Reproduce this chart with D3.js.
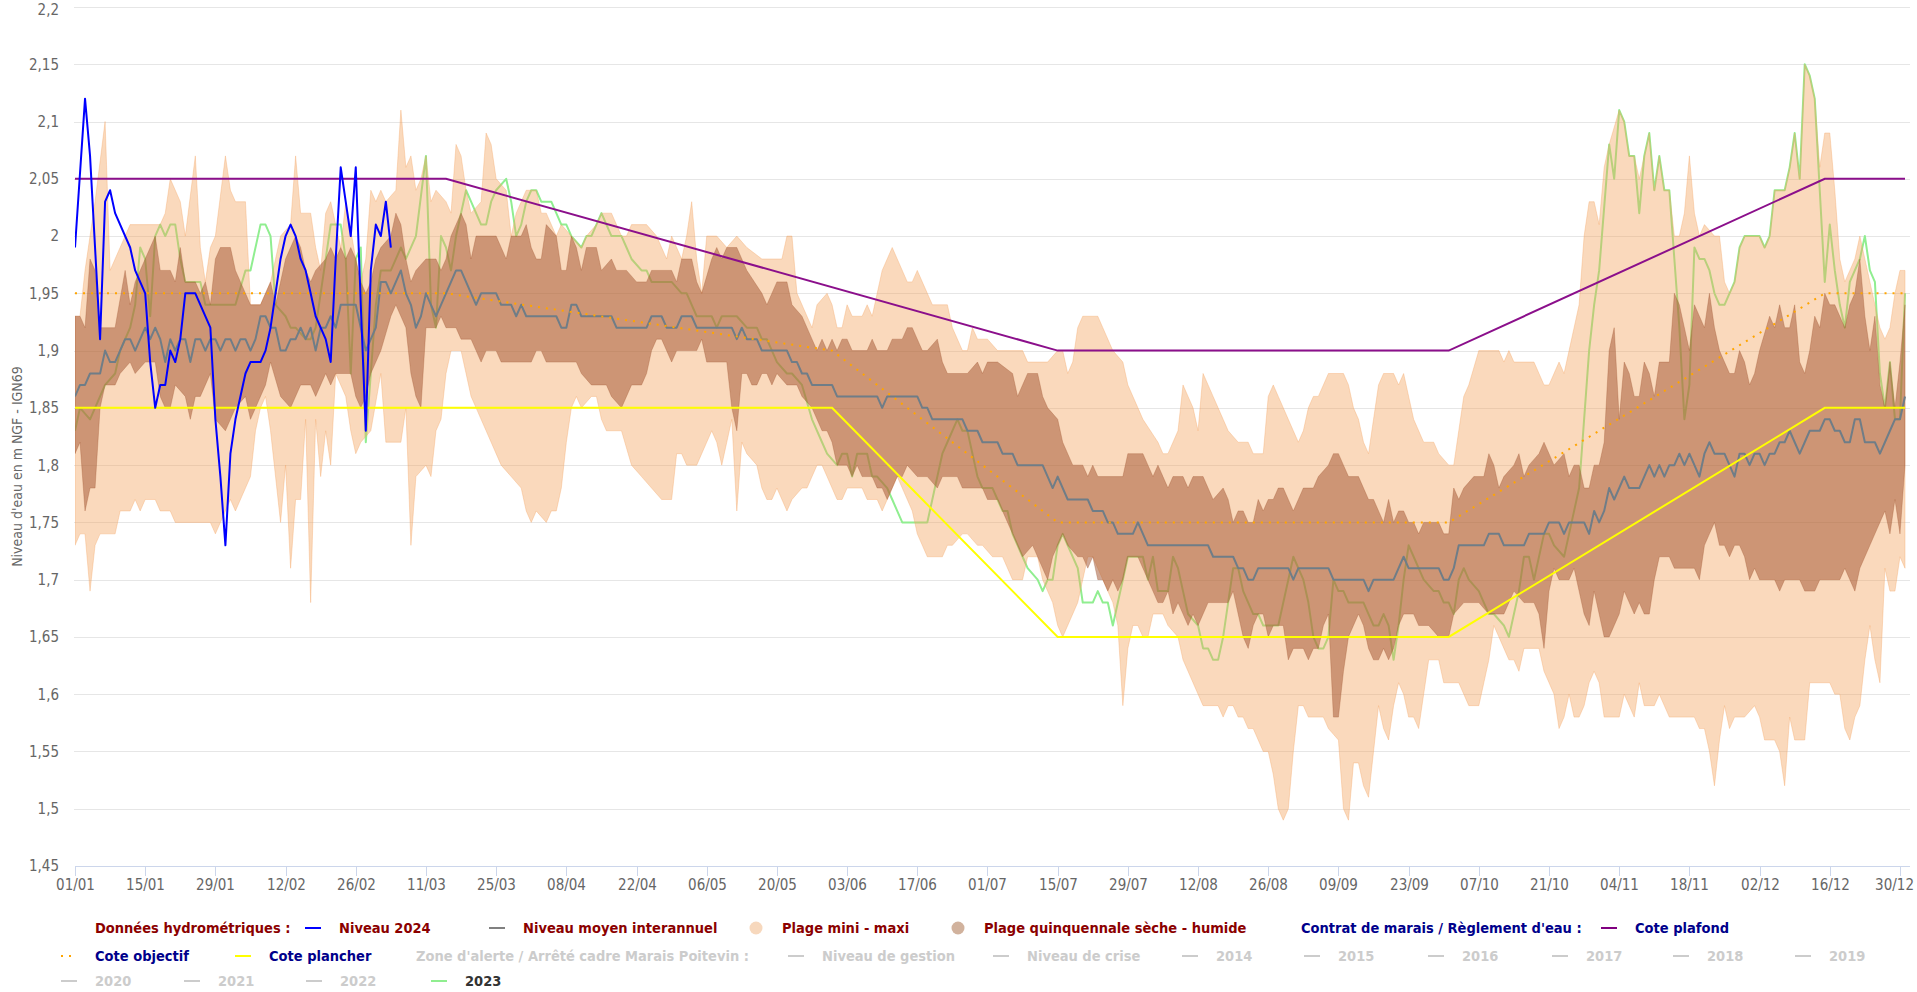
<!DOCTYPE html>
<html>
<head>
<meta charset="utf-8">
<script src="https://cdn.jsdelivr.net/npm/d3@7"></script>
<style>
body { margin: 0; background: #fff; }
svg { display: block; font-family: "DejaVu Sans Condensed", "DejaVu Sans", sans-serif; }
</style>
</head>
<body>
<svg width="1917" height="992"></svg>
<script>
// day of year (0 = 01/01/2024), level in m NGF
var xTickLabels = ["01/01","15/01","29/01","12/02","26/02","11/03","25/03","08/04","22/04","06/05","20/05","03/06","17/06","01/07",
	"15/07","29/07","12/08","26/08","09/09","23/09","07/10","21/10","04/11","18/11","02/12","16/12","30/12"];
var yTicks = [1.45,1.5,1.55,1.6,1.65,1.7,1.75,1.8,1.85,1.9,1.95,2,2.05,2.1,2.15,2.2];

var niveau2024 = [[0,1.99],[2,2.12],[3,2.07],[5,1.91],[6,2.03],[7,2.04],[8,2.02],[11,1.99],[12,1.97],[14,1.95],[15,1.89],[16,1.85],[17,1.87],[18,1.87],
	[19,1.90],[20,1.89],[21,1.91],[22,1.95],[24,1.95],[27,1.92],[28,1.84],[29,1.79],[30,1.73],[31,1.81],[32,1.84],[34,1.88],[35,1.89],[37,1.89],[38,1.90],
	[39,1.92],[41,1.98],[42,2.00],[43,2.01],[44,2.00],[45,1.98],[46,1.97],[47,1.95],[48,1.93],[50,1.91],[51,1.89],[52,1.98],[53,2.06],[55,2.00],[56,2.06],
	[57,1.94],[58,1.83],[59,1.97],[60,2.01],[61,2.00],[62,2.03],[63,1.99]];

var niveauMoyen = [[0,1.86],[1,1.87],[2,1.87],[3,1.88],[5,1.88],[6,1.90],[7,1.89],[8,1.89],[9,1.90],[10,1.91],[11,1.91],[12,1.90],[13,1.91],[14,1.92],
	[15,1.91],[16,1.92],[17,1.91],[18,1.89],[19,1.91],[20,1.90],[21,1.91],[22,1.91],[23,1.89],[24,1.91],[25,1.91],[26,1.90],[27,1.91],[28,1.91],[29,1.90],
	[30,1.91],[31,1.91],[32,1.90],[33,1.91],[34,1.91],[35,1.90],[36,1.91],[37,1.93],[38,1.93],[39,1.92],[40,1.92],[41,1.90],[42,1.90],[43,1.91],[44,1.91],
	[45,1.92],[46,1.91],[47,1.92],[48,1.90],[49,1.92],[50,1.92],[51,1.93],[52,1.92],[53,1.94],[56,1.94],[57,1.92],[58,1.90],[59,1.91],[60,1.92],[61,1.96],
	[62,1.96],[63,1.95],[64,1.96],[65,1.97],[66,1.95],[67,1.94],[68,1.92],[69,1.93],[70,1.95],[71,1.94],[72,1.93],[73,1.94],[75,1.96],[76,1.97],[77,1.97],
	[78,1.96],[80,1.94],[81,1.95],[84,1.95],[85,1.94],[87,1.94],[88,1.93],[89,1.94],[90,1.93],[96,1.93],[97,1.92],[98,1.92],[99,1.94],[100,1.94],[101,1.93],
	[107,1.93],[108,1.92],[114,1.92],[115,1.93],[117,1.93],[118,1.92],[120,1.92],[121,1.93],[123,1.93],[124,1.92],[131,1.92],[132,1.91],[133,1.92],[134,1.91],
	[136,1.91],[137,1.90],[142,1.90],[143,1.89],[144,1.89],[145,1.88],[146,1.88],[147,1.87],[151,1.87],[152,1.86],[160,1.86],[161,1.85],[162,1.86],[168,1.86],
	[169,1.85],[170,1.85],[171,1.84],[177,1.84],[178,1.83],[180,1.83],[181,1.82],[184,1.82],[185,1.81],[187,1.81],[188,1.80],[193,1.80],[194,1.79],[195,1.78],
	[196,1.79],[198,1.77],[202,1.77],[203,1.76],[205,1.76],[206,1.75],[207,1.75],[208,1.74],[211,1.74],[212,1.75],[213,1.74],[214,1.73],[226,1.73],[227,1.72],
	[231,1.72],[232,1.71],[233,1.71],[234,1.70],[235,1.70],[236,1.71],[242,1.71],[243,1.70],[244,1.71],[250,1.71],[251,1.70],[257,1.70],[258,1.69],[259,1.70],
	[263,1.70],[264,1.71],[265,1.72],[266,1.71],[272,1.71],[273,1.70],[274,1.70],[275,1.71],[276,1.73],[281,1.73],[282,1.74],[284,1.74],[285,1.73],[289,1.73],
	[290,1.74],[293,1.74],[294,1.75],[296,1.75],[297,1.74],[298,1.75],[301,1.75],[302,1.74],[303,1.76],[304,1.75],[305,1.76],[306,1.78],[307,1.77],[309,1.79],
	[310,1.78],[312,1.78],[313,1.79],[314,1.80],[315,1.79],[316,1.80],[317,1.79],[318,1.80],[319,1.80],[320,1.81],[321,1.80],[322,1.81],[323,1.80],[324,1.79],
	[325,1.81],[326,1.82],[327,1.81],[329,1.81],[330,1.80],[331,1.79],[332,1.81],[333,1.81],[334,1.80],[335,1.81],[336,1.81],[337,1.80],[338,1.81],[339,1.81],
	[340,1.82],[341,1.82],[342,1.83],[343,1.82],[344,1.81],[345,1.82],[346,1.83],[348,1.83],[349,1.84],[350,1.84],[351,1.83],[352,1.83],[353,1.82],[354,1.82],
	[355,1.84],[356,1.84],[357,1.82],[359,1.82],[360,1.81],[361,1.82],[362,1.83],[363,1.84],[364,1.84],[365,1.86]];

var niveau2023 = [[0,1.83],[1,1.85],[3,1.84],[4,1.85],[5,1.86],[6,1.87],[8,1.88],[9,1.90],[11,1.92],[12,1.94],[13,1.99],[14,1.98],[15,1.93],[16,2.00],
	[17,2.01],[18,2.00],[19,2.01],[20,2.01],[21,1.98],[22,1.96],[25,1.96],[26,1.94],[32,1.94],[34,1.97],[35,1.97],[37,2.01],[38,2.01],[39,2.00],[40,1.94],
	[42,1.93],[43,1.92],[44,1.92],[46,1.91],[47,1.91],[48,1.92],[51,2.01],[53,2.01],[54,1.98],[55,1.88],[56,1.98],[57,1.99],[58,1.82],[59,1.88],[60,1.94],
	[61,1.97],[63,1.97],[65,1.99],[66,1.98],[68,2.00],[70,2.07],[71,1.94],[72,1.92],[73,2.00],[74,1.99],[75,1.97],[76,2.00],[78,2.04],[79,2.03],[81,2.01],
	[82,2.01],[83,2.03],[84,2.04],[86,2.05],[87,2.03],[88,2.00],[89,2.01],[90,2.03],[91,2.04],[92,2.04],[93,2.03],[95,2.03],[96,2.02],[97,2.01],[98,2.01],
	[99,2.00],[101,1.99],[102,2.00],[103,2.00],[105,2.02],[106,2.01],[107,2.00],[109,2.00],[110,1.99],[111,1.98],[113,1.97],[114,1.97],[115,1.96],[119,1.96],
	[121,1.95],[122,1.95],[124,1.93],[127,1.93],[128,1.92],[129,1.93],[132,1.93],[134,1.92],[136,1.92],[137,1.91],[138,1.91],[139,1.90],[140,1.89],[142,1.88],
	[143,1.88],[145,1.87],[147,1.84],[149,1.82],[150,1.81],[152,1.80],[153,1.81],[154,1.81],[155,1.79],[156,1.81],[158,1.81],[159,1.79],[160,1.79],[162,1.78],
	[163,1.77],[165,1.75],[170,1.75],[171,1.77],[172,1.79],[173,1.81],[174,1.82],[176,1.84],[177,1.83],[178,1.83],[179,1.81],[180,1.79],[181,1.78],[183,1.78],
	[184,1.77],[185,1.76],[186,1.76],[187,1.74],[189,1.72],[190,1.71],[192,1.70],[193,1.69],[194,1.70],[195,1.70],[196,1.73],[197,1.74],[198,1.73],[200,1.71],
	[201,1.68],[203,1.68],[204,1.69],[205,1.68],[206,1.68],[207,1.66],[208,1.68],[209,1.70],[210,1.72],[213,1.72],[214,1.70],[215,1.72],[216,1.69],[218,1.69],
	[219,1.72],[220,1.71],[221,1.69],[222,1.67],[224,1.66],[225,1.64],[226,1.64],[227,1.63],[228,1.63],[229,1.65],[230,1.68],[231,1.71],[232,1.71],[233,1.69],
	[234,1.68],[235,1.67],[236,1.67],[237,1.66],[240,1.66],[241,1.68],[242,1.70],[243,1.72],[244,1.71],[245,1.70],[246,1.68],[247,1.65],[248,1.64],[249,1.64],
	[250,1.65],[251,1.70],[252,1.69],[253,1.69],[254,1.68],[257,1.68],[258,1.67],[259,1.66],[260,1.66],[261,1.67],[262,1.66],[263,1.63],[264,1.66],[265,1.70],
	[266,1.73],[267,1.72],[269,1.70],[271,1.69],[272,1.69],[273,1.68],[274,1.68],[275,1.67],[276,1.70],[277,1.71],[278,1.70],[280,1.69],[281,1.68],[282,1.67],
	[283,1.67],[285,1.66],[286,1.65],[287,1.67],[288,1.69],[289,1.72],[290,1.72],[291,1.70],[292,1.72],[293,1.74],[294,1.74],[295,1.73],[297,1.72],[298,1.74],
	[300,1.78],[301,1.84],[302,1.90],[303,1.94],[304,1.97],[306,2.08],[307,2.05],[308,2.11],[309,2.10],[310,2.07],[311,2.07],[312,2.02],[313,2.07],[314,2.09],
	[315,2.04],[316,2.07],[317,2.04],[318,2.04],[319,1.98],[320,1.92],[321,1.84],[322,1.87],[323,1.99],[324,1.98],[325,1.98],[326,1.97],[327,1.95],[328,1.94],
	[329,1.94],[330,1.95],[331,1.96],[332,1.99],[333,2.00],[336,2.00],[337,1.99],[338,2.00],[339,2.04],[341,2.04],[342,2.06],[343,2.09],[344,2.05],[345,2.15],
	[346,2.14],[347,2.12],[348,2.04],[349,1.96],[350,2.01],[351,1.97],[352,1.94],[353,1.92],[354,1.96],[355,1.97],[356,1.98],[357,2.00],[358,1.97],[359,1.96],
	[360,1.88],[361,1.85],[362,1.89],[363,1.84],[364,1.84],[365,1.95]];

var plageMaxi = [[0,1.93],[1,1.93],[2,1.97],[4,2.03],[6,2.10],[7,1.97],[9,1.99],[11,2.01],[17,2.01],[18,2.02],[19,2.05],[21,2.03],[22,2.00],[24,2.07],
	[25,1.99],[26,1.96],[27,1.99],[28,2.00],[30,2.07],[31,2.04],[32,2.03],[34,2.03],[35,1.94],[37,1.94],[39,1.96],[41,2.00],[43,2.01],[44,2.07],[45,2.02],
	[47,2.02],[48,1.99],[49,1.97],[50,2.02],[51,2.03],[52,2.01],[53,1.99],[54,2.03],[56,1.98],[57,1.96],[58,1.98],[59,2.04],[60,2.03],[61,2.04],[62,2.03],
	[64,2.04],[65,2.11],[66,2.06],[67,2.07],[68,2.04],[69,2.05],[70,2.07],[71,2.03],[72,2.04],[74,2.03],[75,2.02],[76,2.08],[77,2.07],[78,2.04],[79,2.02],
	[81,2.03],[82,2.09],[83,2.08],[84,2.05],[86,2.04],[87,2.00],[88,2.02],[90,2.04],[92,2.04],[93,2.02],[94,2.02],[96,2.00],[97,2.01],[99,2.00],[101,1.99],
	[102,2.00],[104,2.01],[105,2.02],[107,2.02],[109,2.00],[110,2.00],[111,2.01],[114,2.01],[116,2.00],[118,1.98],[119,2.00],[121,1.98],[122,2.00],[123,2.03],
	[124,1.98],[125,1.95],[126,2.00],[128,2.00],[130,1.99],[132,2.00],[134,1.99],[137,1.98],[141,1.98],[142,2.00],[143,2.00],[144,1.95],[146,1.93],[147,1.92],
	[148,1.94],[150,1.95],[151,1.94],[152,1.92],[153,1.92],[154,1.94],[155,1.93],[157,1.93],[158,1.94],[159,1.93],[160,1.95],[161,1.97],[162,1.98],[163,1.99],
	[164,1.98],[166,1.96],[167,1.96],[168,1.97],[170,1.95],[171,1.94],[174,1.94],[175,1.92],[177,1.90],[178,1.90],[179,1.92],[180,1.91],[182,1.91],[184,1.90],
	[189,1.90],[190,1.89],[194,1.89],[196,1.90],[197,1.90],[198,1.88],[199,1.89],[200,1.92],[201,1.93],[204,1.93],[205,1.92],[207,1.90],[209,1.89],[210,1.87],
	[212,1.85],[213,1.84],[216,1.82],[217,1.81],[218,1.81],[219,1.82],[220,1.83],[221,1.87],[222,1.86],[223,1.85],[224,1.83],[225,1.88],[226,1.87],[227,1.86],
	[228,1.85],[229,1.84],[230,1.83],[232,1.82],[234,1.82],[235,1.81],[237,1.81],[238,1.86],[239,1.87],[240,1.86],[242,1.84],[243,1.83],[244,1.82],[245,1.83],
	[246,1.85],[247,1.86],[248,1.86],[249,1.87],[250,1.88],[253,1.88],[254,1.87],[255,1.85],[256,1.84],[257,1.82],[258,1.81],[259,1.84],[260,1.87],[261,1.88],
	[263,1.88],[264,1.87],[265,1.88],[267,1.84],[269,1.82],[271,1.82],[272,1.81],[274,1.80],[275,1.80],[276,1.83],[277,1.86],[278,1.87],[280,1.90],[284,1.90],
	[285,1.89],[286,1.90],[287,1.89],[291,1.89],[292,1.88],[293,1.87],[294,1.87],[296,1.89],[297,1.88],[298,1.90],[299,1.92],[300,1.94],[301,2.00],[302,2.03],
	[303,2.03],[304,2.01],[305,2.06],[306,2.08],[308,2.11],[309,2.10],[310,2.07],[311,2.07],[312,2.05],[313,2.07],[314,2.09],[315,2.04],[316,2.07],[317,2.04],
	[318,2.04],[319,2.00],[320,2.00],[321,2.02],[322,2.07],[323,2.02],[324,2.00],[325,2.01],[327,2.00],[328,2.00],[329,1.96],[330,1.95],[331,1.96],[332,1.99],
	[333,2.00],[336,2.00],[337,1.99],[338,2.00],[339,2.04],[341,2.04],[342,2.06],[343,2.09],[344,2.05],[345,2.15],[346,2.14],[347,2.12],[348,2.06],[349,2.09],
	[350,2.09],[351,2.04],[352,1.98],[353,1.96],[354,1.97],[355,1.98],[356,2.00],[357,1.98],[358,1.96],[359,1.94],[360,1.92],[361,1.91],[362,1.92],[363,1.95],
	[364,1.97],[365,1.97]];

var plageMini = [[0,1.73],[1,1.74],[2,1.74],[3,1.69],[4,1.73],[5,1.74],[8,1.74],[9,1.76],[11,1.76],[12,1.77],[13,1.76],[14,1.77],[16,1.77],[17,1.76],
	[19,1.76],[20,1.75],[27,1.75],[28,1.74],[29,1.75],[31,1.77],[32,1.76],[34,1.78],[35,1.79],[36,1.83],[37,1.85],[38,1.86],[39,1.83],[41,1.75],[42,1.80],
	[43,1.71],[44,1.77],[45,1.77],[46,1.84],[47,1.68],[48,1.84],[49,1.79],[50,1.83],[51,1.80],[52,1.88],[54,1.86],[55,1.83],[56,1.81],[57,1.82],[59,1.83],
	[61,1.88],[62,1.82],[65,1.82],[66,1.85],[67,1.73],[68,1.79],[70,1.80],[71,1.79],[72,1.83],[73,1.84],[74,1.88],[75,1.90],[77,1.90],[78,1.88],[79,1.86],
	[80,1.85],[82,1.83],[83,1.82],[85,1.80],[87,1.79],[89,1.78],[90,1.76],[91,1.75],[92,1.76],[94,1.75],[95,1.76],[96,1.76],[97,1.78],[98,1.82],[99,1.85],
	[100,1.86],[101,1.85],[103,1.86],[104,1.86],[105,1.84],[106,1.83],[109,1.83],[111,1.80],[113,1.79],[115,1.78],[117,1.77],[119,1.77],[120,1.81],[121,1.81],
	[122,1.80],[124,1.80],[126,1.82],[127,1.83],[128,1.82],[129,1.80],[130,1.82],[131,1.84],[132,1.76],[133,1.82],[134,1.81],[136,1.80],[137,1.78],[138,1.77],
	[139,1.77],[140,1.78],[142,1.76],[143,1.77],[145,1.78],[146,1.78],[147,1.79],[148,1.80],[149,1.80],[150,1.79],[152,1.77],[153,1.77],[154,1.78],[157,1.78],
	[158,1.77],[160,1.77],[161,1.76],[162,1.77],[164,1.79],[165,1.78],[167,1.76],[168,1.74],[170,1.72],[173,1.72],[174,1.73],[175,1.73],[177,1.74],[178,1.74],
	[180,1.73],[181,1.73],[183,1.72],[185,1.72],[187,1.70],[189,1.70],[190,1.72],[192,1.72],[193,1.70],[195,1.68],[196,1.66],[197,1.65],[198,1.66],[200,1.68],
	[201,1.70],[202,1.72],[203,1.72],[205,1.70],[206,1.69],[207,1.68],[208,1.66],[209,1.59],[210,1.64],[211,1.66],[212,1.66],[213,1.65],[214,1.65],[215,1.67],
	[217,1.67],[218,1.66],[220,1.65],[221,1.63],[222,1.62],[223,1.61],[224,1.60],[225,1.59],[228,1.59],[229,1.58],[230,1.59],[231,1.59],[232,1.58],[233,1.58],
	[234,1.57],[235,1.57],[237,1.55],[238,1.55],[239,1.53],[240,1.50],[241,1.49],[242,1.50],[243,1.55],[244,1.59],[245,1.59],[246,1.58],[249,1.58],[250,1.57],
	[252,1.56],[253,1.50],[254,1.49],[255,1.54],[256,1.54],[257,1.52],[258,1.51],[259,1.55],[260,1.59],[261,1.57],[262,1.56],[263,1.59],[264,1.61],[265,1.60],
	[266,1.58],[267,1.58],[268,1.57],[269,1.60],[270,1.63],[272,1.63],[273,1.61],[276,1.61],[277,1.60],[278,1.59],[280,1.59],[281,1.61],[282,1.63],[283,1.66],
	[284,1.65],[285,1.64],[286,1.63],[287,1.63],[288,1.62],[289,1.64],[292,1.64],[293,1.62],[294,1.61],[295,1.60],[296,1.57],[297,1.58],[298,1.60],[299,1.58],
	[300,1.58],[301,1.59],[302,1.61],[303,1.62],[304,1.61],[305,1.58],[308,1.58],[309,1.60],[310,1.59],[311,1.58],[312,1.61],[313,1.59],[315,1.59],[316,1.60],
	[318,1.58],[323,1.58],[324,1.57],[325,1.57],[326,1.55],[327,1.52],[328,1.56],[329,1.59],[330,1.57],[331,1.58],[333,1.58],[335,1.59],[336,1.58],[337,1.56],
	[339,1.56],[340,1.55],[341,1.52],[342,1.58],[343,1.56],[345,1.56],[346,1.61],[350,1.61],[351,1.60],[352,1.60],[353,1.57],[354,1.56],[355,1.58],[356,1.59],
	[357,1.63],[358,1.66],[359,1.63],[360,1.61],[361,1.71],[362,1.69],[363,1.69],[364,1.72],[365,1.71]];

var quinqHumide = [[0,1.93],[1,1.93],[2,1.92],[3,1.98],[4,1.97],[5,1.92],[8,1.92],[10,1.97],[11,1.94],[12,1.96],[14,1.98],[16,2.00],[17,1.97],[19,1.97],
	[20,1.96],[21,1.99],[22,1.96],[24,1.96],[25,1.95],[26,1.96],[27,1.94],[28,1.98],[29,1.99],[31,1.99],[32,1.97],[35,1.94],[37,1.94],[39,1.96],[40,1.94],
	[42,1.98],[44,2.00],[45,1.99],[46,1.97],[47,1.96],[48,1.97],[50,1.98],[51,1.99],[52,1.98],[53,1.99],[54,1.98],[55,1.99],[56,1.98],[57,1.96],[58,1.95],
	[59,1.96],[60,1.98],[61,1.99],[63,2.00],[64,2.02],[65,2.01],[66,1.98],[67,1.96],[68,1.97],[70,1.98],[72,1.98],[73,1.97],[74,1.98],[75,2.00],[77,2.02],
	[78,2.01],[79,1.98],[80,2.00],[84,2.00],[86,1.98],[87,2.00],[89,2.00],[90,2.01],[91,1.99],[92,1.98],[93,1.98],[94,2.01],[96,2.00],[97,1.97],[98,1.97],
	[99,2.00],[100,1.99],[101,1.97],[102,1.99],[104,1.99],[105,1.97],[107,1.98],[108,1.97],[110,1.97],[112,1.96],[114,1.96],[115,1.97],[119,1.97],[120,1.96],
	[121,1.98],[123,1.98],[124,1.96],[125,1.95],[127,1.98],[128,1.99],[129,1.98],[130,1.99],[132,1.99],[133,1.98],[134,1.97],[137,1.95],[138,1.94],[140,1.96],
	[142,1.96],[143,1.94],[145,1.93],[146,1.92],[147,1.91],[148,1.90],[149,1.91],[150,1.90],[151,1.91],[152,1.90],[153,1.91],[154,1.91],[155,1.90],[158,1.90],
	[159,1.91],[160,1.90],[162,1.90],[163,1.91],[165,1.91],[166,1.92],[167,1.92],[168,1.91],[169,1.90],[170,1.90],[172,1.91],[173,1.89],[174,1.88],[178,1.88],
	[180,1.89],[181,1.88],[182,1.89],[184,1.89],[187,1.88],[188,1.86],[189,1.87],[190,1.88],[192,1.88],[193,1.86],[194,1.85],[196,1.84],[197,1.82],[199,1.80],
	[201,1.80],[202,1.79],[203,1.80],[204,1.79],[209,1.79],[210,1.81],[213,1.81],[214,1.80],[215,1.79],[216,1.80],[217,1.79],[218,1.78],[219,1.79],[221,1.79],
	[222,1.78],[223,1.79],[225,1.79],[226,1.78],[227,1.77],[229,1.78],[230,1.77],[231,1.75],[232,1.76],[233,1.76],[234,1.75],[235,1.75],[236,1.77],[237,1.76],
	[238,1.77],[239,1.77],[240,1.78],[241,1.78],[242,1.77],[243,1.76],[244,1.77],[245,1.78],[247,1.78],[248,1.79],[250,1.80],[251,1.81],[252,1.81],[253,1.80],
	[254,1.79],[256,1.79],[257,1.78],[258,1.77],[259,1.77],[260,1.76],[261,1.75],[262,1.77],[263,1.75],[264,1.76],[265,1.76],[266,1.75],[267,1.75],[268,1.74],
	[269,1.75],[272,1.75],[273,1.74],[274,1.74],[275,1.78],[276,1.77],[277,1.78],[279,1.79],[281,1.79],[282,1.81],[283,1.80],[284,1.78],[285,1.79],[287,1.80],
	[288,1.81],[289,1.79],[290,1.80],[292,1.81],[293,1.82],[294,1.81],[295,1.80],[297,1.81],[298,1.79],[299,1.80],[300,1.80],[301,1.78],[302,1.78],[303,1.80],
	[304,1.80],[305,1.82],[306,1.90],[307,1.92],[308,1.84],[309,1.89],[310,1.88],[311,1.86],[312,1.86],[313,1.89],[314,1.88],[315,1.86],[316,1.89],[318,1.89],
	[319,1.95],[320,1.94],[321,1.92],[322,1.90],[323,1.94],[324,1.93],[325,1.92],[326,1.95],[327,1.92],[328,1.90],[329,1.89],[330,1.88],[331,1.88],[332,1.90],
	[333,1.89],[334,1.87],[335,1.88],[336,1.90],[338,1.93],[339,1.92],[340,1.94],[341,1.92],[342,1.92],[343,1.94],[344,1.89],[345,1.88],[346,1.90],[347,1.93],
	[348,1.92],[349,1.95],[350,1.94],[351,1.94],[352,1.93],[353,1.92],[354,1.94],[355,1.95],[356,1.98],[357,1.93],[358,1.90],[359,1.93],[360,1.87],[361,1.85],
	[362,1.89],[363,1.85],[364,1.89],[365,1.94]];

var quinqSeche = [[0,1.81],[1,1.82],[2,1.76],[3,1.78],[4,1.78],[5,1.85],[6,1.87],[8,1.87],[9,1.88],[11,1.89],[12,1.88],[14,1.89],[16,1.89],[17,1.86],
	[18,1.85],[19,1.85],[20,1.87],[22,1.86],[23,1.84],[24,1.86],[25,1.86],[27,1.88],[28,1.84],[30,1.83],[31,1.84],[32,1.85],[34,1.86],[35,1.84],[38,1.87],
	[39,1.89],[41,1.86],[43,1.85],[45,1.87],[47,1.87],[48,1.86],[50,1.88],[51,1.87],[52,1.88],[55,1.88],[56,1.86],[57,1.85],[58,1.86],[59,1.88],[60,1.89],
	[61,1.90],[63,1.93],[64,1.94],[65,1.93],[66,1.92],[67,1.88],[68,1.86],[69,1.85],[70,1.92],[72,1.92],[73,1.93],[74,1.92],[76,1.92],[77,1.91],[79,1.91],
	[80,1.90],[81,1.89],[82,1.90],[84,1.90],[85,1.89],[91,1.89],[92,1.90],[93,1.90],[94,1.89],[100,1.89],[101,1.88],[103,1.87],[106,1.87],[107,1.86],[109,1.85],
	[110,1.86],[111,1.87],[113,1.87],[114,1.88],[115,1.90],[116,1.91],[117,1.91],[119,1.89],[120,1.90],[124,1.90],[125,1.91],[126,1.89],[130,1.89],[131,1.85],
	[132,1.83],[133,1.88],[134,1.88],[135,1.87],[136,1.87],[137,1.88],[138,1.88],[139,1.87],[140,1.88],[142,1.87],[144,1.87],[145,1.86],[147,1.85],[148,1.84],
	[149,1.83],[150,1.83],[151,1.82],[152,1.80],[154,1.80],[155,1.79],[156,1.80],[157,1.79],[159,1.79],[160,1.78],[161,1.78],[162,1.77],[164,1.79],[165,1.79],
	[166,1.80],[168,1.79],[170,1.79],[172,1.78],[173,1.79],[176,1.79],[177,1.78],[181,1.78],[182,1.77],[184,1.77],[185,1.76],[186,1.75],[187,1.74],[189,1.72],
	[191,1.73],[192,1.72],[193,1.71],[194,1.70],[195,1.72],[196,1.73],[197,1.74],[198,1.73],[200,1.72],[201,1.72],[202,1.71],[203,1.72],[204,1.70],[205,1.70],
	[206,1.69],[207,1.70],[208,1.69],[209,1.70],[210,1.72],[212,1.72],[213,1.71],[214,1.70],[215,1.69],[216,1.68],[217,1.68],[218,1.69],[219,1.67],[220,1.68],
	[221,1.67],[222,1.66],[223,1.67],[224,1.66],[225,1.67],[226,1.68],[230,1.68],[231,1.69],[232,1.67],[233,1.65],[234,1.64],[235,1.66],[236,1.67],[237,1.67],
	[238,1.65],[239,1.66],[241,1.66],[242,1.63],[243,1.64],[245,1.64],[246,1.63],[247,1.64],[248,1.64],[249,1.66],[250,1.67],[251,1.58],[252,1.58],[253,1.62],
	[254,1.65],[255,1.66],[256,1.67],[257,1.66],[258,1.64],[259,1.63],[260,1.63],[261,1.64],[262,1.63],[263,1.64],[264,1.66],[265,1.67],[267,1.67],[268,1.66],
	[270,1.66],[272,1.65],[274,1.65],[275,1.67],[277,1.68],[280,1.68],[282,1.67],[285,1.67],[287,1.69],[289,1.68],[291,1.68],[292,1.67],[293,1.64],[294,1.69],
	[295,1.71],[296,1.70],[298,1.70],[299,1.71],[300,1.69],[301,1.67],[302,1.66],[303,1.69],[304,1.67],[305,1.65],[306,1.65],[307,1.66],[308,1.67],[309,1.69],
	[310,1.68],[311,1.67],[312,1.68],[313,1.67],[314,1.67],[315,1.70],[316,1.72],[318,1.72],[319,1.71],[323,1.71],[324,1.70],[325,1.73],[326,1.74],[327,1.75],
	[328,1.73],[329,1.73],[330,1.72],[331,1.73],[332,1.73],[333,1.72],[334,1.70],[335,1.71],[336,1.70],[339,1.70],[340,1.69],[341,1.70],[344,1.70],[345,1.69],
	[347,1.69],[348,1.70],[352,1.70],[353,1.71],[354,1.70],[355,1.69],[356,1.71],[357,1.72],[359,1.74],[361,1.76],[362,1.74],[363,1.77],[364,1.74],[365,1.80]];

var cotePlafond = [[0,2.05],[74,2.05],[196,1.90],[274,1.90],[349,2.05],[365,2.05]];
var coteObjectif = [[0,1.95],[74,1.95],[151,1.90],[196,1.75],[274,1.75],[349,1.95],[365,1.95]];
var cotePlancher = [[0,1.85],[151,1.85],[196,1.65],[274,1.65],[349,1.85],[365,1.85]];

var legendRows = [928, 956, 981];
var legendItems = [
	{label:"Données hydrométriques :", sym:"none", color:"#8b0000", row:0, x:95},
	{label:"Niveau 2024", sym:"line", stroke:"#0000ff", color:"#8b0000", row:0, x:339},
	{label:"Niveau moyen interannuel", sym:"line", stroke:"#808080", color:"#8b0000", row:0, x:523},
	{label:"Plage mini - maxi", sym:"circle", fill:"#f7d8bd", color:"#8b0000", row:0, x:782},
	{label:"Plage quinquennale sèche - humide", sym:"circle", fill:"#d1b29d", color:"#8b0000", row:0, x:984},
	{label:"Contrat de marais / Règlement d'eau :", sym:"none", color:"#00008b", row:0, x:1301},
	{label:"Cote plafond", sym:"line", stroke:"#800080", color:"#00008b", row:0, x:1635},
	{label:"Cote objectif", sym:"dot", stroke:"#ffa500", color:"#00008b", row:1, x:95},
	{label:"Cote plancher", sym:"line", stroke:"#ffff00", color:"#00008b", row:1, x:269},
	{label:"Zone d'alerte / Arrêté cadre Marais Poitevin :", sym:"none", color:"#cccccc", row:1, x:416},
	{label:"Niveau de gestion", sym:"line", stroke:"#cccccc", color:"#cccccc", row:1, x:822},
	{label:"Niveau de crise", sym:"line", stroke:"#cccccc", color:"#cccccc", row:1, x:1027},
	{label:"2014", sym:"line", stroke:"#cccccc", color:"#cccccc", row:1, x:1216},
	{label:"2015", sym:"line", stroke:"#cccccc", color:"#cccccc", row:1, x:1338},
	{label:"2016", sym:"line", stroke:"#cccccc", color:"#cccccc", row:1, x:1462},
	{label:"2017", sym:"line", stroke:"#cccccc", color:"#cccccc", row:1, x:1586},
	{label:"2018", sym:"line", stroke:"#cccccc", color:"#cccccc", row:1, x:1707},
	{label:"2019", sym:"line", stroke:"#cccccc", color:"#cccccc", row:1, x:1829},
	{label:"2020", sym:"line", stroke:"#cccccc", color:"#cccccc", row:2, x:95},
	{label:"2021", sym:"line", stroke:"#cccccc", color:"#cccccc", row:2, x:218},
	{label:"2022", sym:"line", stroke:"#cccccc", color:"#cccccc", row:2, x:340},
	{label:"2023", sym:"line", stroke:"#90ee90", color:"#333333", row:2, x:465}
];

var svg = d3.select("svg"),
	margin = {top: 7, right: 7, bottom: 126, left: 75},
	width = +svg.attr("width") - margin.left - margin.right,
	height = +svg.attr("height") - margin.top - margin.bottom;

var x = d3.scaleLinear().domain([0, 366]).range([0, width]),
	y = d3.scaleLinear().domain([1.45, 2.2]).range([height, 0]);

var fmt = d3.formatLocale({decimal: ",", thousands: " ", grouping: [3], currency: ["", "€"]}).format("~g");

var g = svg.append("g")
	.attr("transform", "translate(" + margin.left + "," + margin.top + ")");

svg.append("defs").append("clipPath").attr("id", "plot")
	.append("rect").attr("x", 0).attr("y", 0).attr("width", width).attr("height", height);

// grid + y labels
g.append("g").attr("class", "grid")
	.selectAll("line").data(yTicks.slice(1)).enter().append("line")
	.attr("x1", -1).attr("x2", width)
	.attr("y1", function(d){ return Math.round(y(d)) + 0.5; })
	.attr("y2", function(d){ return Math.round(y(d)) + 0.5; })
	.attr("stroke", "#e6e6e6");

g.append("g").attr("class", "axis axis--y")
	.selectAll("text").data(yTicks).enter().append("text")
	.attr("x", -16)
	.attr("y", function(d){ return Math.max(y(d), 3); }) // top label nudged so it is not clipped
	.attr("dy", "0.36em")
	.attr("text-anchor", "end")
	.style("font-size", "15px")
	.style("fill", "#666")
	.text(function(d){ return fmt(d); });

svg.append("text")
	.attr("transform", "translate(22," + (margin.top + height / 2 + 30) + ") rotate(-90)")
	.attr("text-anchor", "middle")
	.style("font-size", "14px")
	.style("fill", "#666")
	.text("Niveau d'eau en m NGF - IGN69");

// x axis
var xAxis = g.append("g").attr("class", "axis axis--x")
	.attr("transform", "translate(0," + height + ")");
xAxis.append("line").attr("x1", 0).attr("x2", width).attr("y1", 0.5).attr("y2", 0.5).attr("stroke", "#ccd6eb");
var ticks = xAxis.selectAll(".tick").data(xTickLabels).enter().append("g")
	.attr("class", "tick")
	.attr("transform", function(d, i){ return "translate(" + (Math.round(x(i * 14)) + 0.5) + ",0)"; });
ticks.append("line").attr("y1", 0).attr("y2", 10).attr("stroke", "#ccd6eb");
ticks.append("text").attr("y", 24).attr("text-anchor", "middle")
	.style("font-size", "15px").style("fill", "#666")
	.text(function(d){ return d; })
	.each(function(){
		// keep edge labels inside the page
		var b = this.getBBox(), t = this.parentNode.transform.baseVal.consolidate().matrix.e + margin.left;
		var over = t + b.x + b.width - (+svg.attr("width") - 3);
		if (over > 0) d3.select(this).attr("x", -over);
	});

// series
var line = d3.line()
	.x(function(d){ return x(d[0]); })
	.y(function(d){ return y(d[1]); });

function band(upper, lower) {
	return line(upper.concat(lower.slice().reverse())) + "Z";
}

var plot = g.append("g").attr("clip-path", "url(#plot)");

plot.append("path").datum(niveau2023)
	.attr("d", line).attr("fill", "none")
	.attr("stroke", "#90ee90").attr("stroke-width", 2).attr("stroke-linejoin", "round");

plot.append("path")
	.attr("d", band(plageMaxi, plageMini))
	.attr("fill", "rgb(244,164,96)").attr("fill-opacity", 0.42)
	.attr("stroke", "rgb(244,164,96)").attr("stroke-opacity", 0.35).attr("stroke-width", 1);

plot.append("path")
	.attr("d", band(quinqHumide, quinqSeche))
	.attr("fill", "rgb(160,82,45)").attr("fill-opacity", 0.5)
	.attr("stroke", "rgb(160,82,45)").attr("stroke-opacity", 0.3).attr("stroke-width", 1);

plot.append("path").datum(niveauMoyen)
	.attr("d", line).attr("fill", "none")
	.attr("stroke", "#6f7d87").attr("stroke-width", 2).attr("stroke-linejoin", "round");

plot.append("path").datum(coteObjectif)
	.attr("d", line).attr("fill", "none")
	.attr("stroke", "#ffa500").attr("stroke-width", 2).attr("stroke-dasharray", "2,6");

plot.append("path").datum(cotePlancher)
	.attr("d", line).attr("fill", "none")
	.attr("stroke", "#ffff00").attr("stroke-width", 2);

plot.append("path").datum(cotePlafond)
	.attr("d", line).attr("fill", "none")
	.attr("stroke", "#8b0f8b").attr("stroke-width", 2);

plot.append("path").datum(niveau2024)
	.attr("d", line).attr("fill", "none")
	.attr("stroke", "#0000ff").attr("stroke-width", 2).attr("stroke-linejoin", "round");

// legend
var leg = svg.append("g").attr("class", "legend")
	.selectAll("g").data(legendItems).enter().append("g")
	.attr("transform", function(d){ return "translate(" + d.x + "," + legendRows[d.row] + ")"; });

leg.filter(function(d){ return d.sym == "line"; }).append("line")
	.attr("x1", -34).attr("x2", -18).attr("y1", 0).attr("y2", 0)
	.attr("stroke", function(d){ return d.stroke; }).attr("stroke-width", 2);
leg.filter(function(d){ return d.sym == "dot"; }).append("line")
	.attr("x1", -34).attr("x2", -18).attr("y1", 0).attr("y2", 0)
	.attr("stroke", function(d){ return d.stroke; }).attr("stroke-width", 2).attr("stroke-dasharray", "2,6");
leg.filter(function(d){ return d.sym == "circle"; }).append("circle")
	.attr("cx", -26).attr("cy", 0).attr("r", 6.5)
	.attr("fill", function(d){ return d.fill; });
leg.append("text")
	.attr("dy", "0.36em")
	.style("font-size", "14.5px").style("font-weight", "bold")
	.style("fill", function(d){ return d.color; })
	.text(function(d){ return d.label; });
</script>
</body>
</html>
